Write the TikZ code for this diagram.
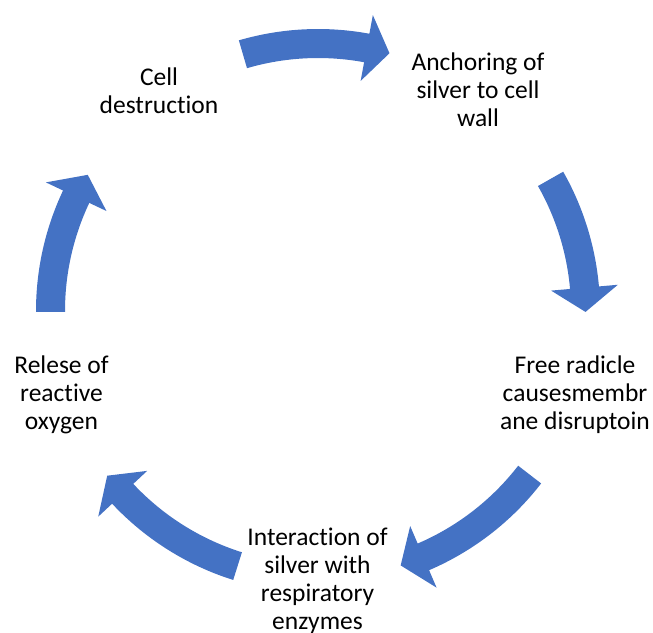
\documentclass[tikz,border=0pt]{standalone}
\usepackage{fontspec}
\setmainfont[Ligatures={NoCommon,NoRequired,NoContextual}]{Carlito}
\definecolor{cycblue}{HTML}{4472C4}
\newcommand{\cycarrow}[3]{% tail angle, head base angle, tip angle
  \fill[cycblue] (#1:282) arc[start angle=#1, end angle=#2, radius=282]
    -- (#2:301) -- (#3:267.5) -- (#2:234) -- (#2:253)
    arc[start angle=#2, end angle=#1, radius=253] -- cycle;}
\begin{document}
\begin{tikzpicture}[x=1pt,y=1pt,
  lbl/.style={font=\fontsize{25.5}{28}\selectfont, align=center, inner sep=0pt, anchor=base, text=black}]
\useasboundingbox (0,0) rectangle (653,-632);
\begin{scope}[shift={(318,-311)}]
  \cycarrow{106.3}{79.5}{74.5}
  \cycarrow{29.6}{5.0}{-0.2}
  \cycarrow{-37.7}{-66.8}{-72}
  \cycarrow{-107.5}{-136.9}{-142}
  \cycarrow{180.2}{154.7}{149.4}
\end{scope}
\node[lbl] (cell) at (159,-113) {Cell\\destruction};
\node[lbl] (anch) at (478,-126) {Anchoring of\\silver to cell\\wall};
\node[lbl] (free) at (575,-429) {Free radicle\\causesmembr\\ane disruptoin};
\node[lbl] (inter) at (317.5,-629) {Interaction of\\silver with\\respiratory\\enzymes};
\node[lbl] (rel) at (61.5,-429) {Relese of\\reactive\\oxygen};
\end{tikzpicture}
\end{document}
